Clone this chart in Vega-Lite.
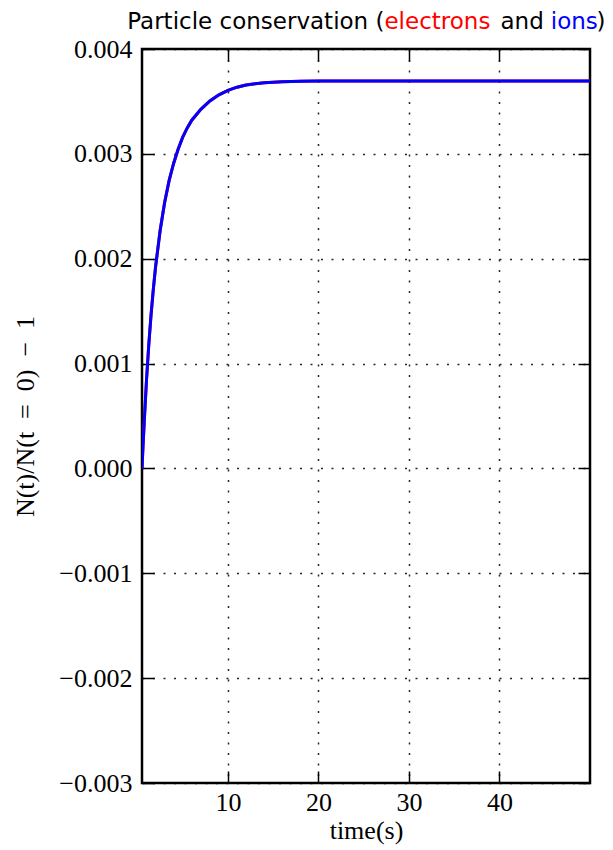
{
  "$schema": "https://vega.github.io/schema/vega-lite/v6.json",
  "width": 448,
  "height": 734,
  "autosize": {"type": "none"},
  "padding": {"left": 142, "top": 49, "right": 23, "bottom": 67},
  "background": "white",
  "data": {
    "values": [
      {"t": 0.5, "electrons": 0.0, "ions": 0.0},
      {"t": 0.6, "electrons": 0.000191, "ions": 0.000191},
      {"t": 0.75, "electrons": 0.00045, "ions": 0.00045},
      {"t": 1.0, "electrons": 0.000846, "ions": 0.000846},
      {"t": 1.25, "electrons": 0.001181, "ions": 0.001181},
      {"t": 1.5, "electrons": 0.001465, "ions": 0.001465},
      {"t": 1.75, "electrons": 0.001707, "ions": 0.001707},
      {"t": 2.0, "electrons": 0.001923, "ions": 0.001923},
      {"t": 2.5, "electrons": 0.002266, "ions": 0.002266},
      {"t": 3.0, "electrons": 0.002537, "ions": 0.002537},
      {"t": 3.5, "electrons": 0.002747, "ions": 0.002747},
      {"t": 4.0, "electrons": 0.002911, "ions": 0.002911},
      {"t": 4.5, "electrons": 0.003047, "ions": 0.003047},
      {"t": 5.0, "electrons": 0.003159, "ions": 0.003159},
      {"t": 5.5, "electrons": 0.003247, "ions": 0.003247},
      {"t": 6.0, "electrons": 0.003321, "ions": 0.003321},
      {"t": 7.0, "electrons": 0.003425, "ions": 0.003425},
      {"t": 8.0, "electrons": 0.003505, "ions": 0.003505},
      {"t": 9.0, "electrons": 0.003563, "ions": 0.003563},
      {"t": 10.0, "electrons": 0.003606, "ions": 0.003606},
      {"t": 11.0, "electrons": 0.003636, "ions": 0.003636},
      {"t": 12.0, "electrons": 0.003656, "ions": 0.003656},
      {"t": 13.0, "electrons": 0.003669, "ions": 0.003669},
      {"t": 14.0, "electrons": 0.003678, "ions": 0.003678},
      {"t": 15.0, "electrons": 0.003684, "ions": 0.003684},
      {"t": 16.0, "electrons": 0.003688, "ions": 0.003688},
      {"t": 18.0, "electrons": 0.003692, "ions": 0.003692},
      {"t": 20.0, "electrons": 0.003694, "ions": 0.003694},
      {"t": 25.0, "electrons": 0.003695, "ions": 0.003695},
      {"t": 30.0, "electrons": 0.003695, "ions": 0.003695},
      {"t": 35.0, "electrons": 0.003695, "ions": 0.003695},
      {"t": 40.0, "electrons": 0.003695, "ions": 0.003695},
      {"t": 45.0, "electrons": 0.003695, "ions": 0.003695},
      {"t": 50.0, "electrons": 0.003695, "ions": 0.003695}
    ]
  },
  "config": {
    "view": {"stroke": "black", "strokeWidth": 2.5},
    "axis": {
      "domain": false,
      "labelFont": "Liberation Serif",
      "labelFontSize": 26,
      "labelColor": "black",
      "titleFont": "Liberation Serif",
      "titleFontSize": 26,
      "titleFontWeight": "normal",
      "titleColor": "black",
      "tickColor": "black",
      "tickWidth": 1.5,
      "tickSize": -12,
      "gridColor": "black",
      "gridDash": [2, 8.5],
      "gridWidth": 1.5,
      "gridOpacity": 0.85
    }
  },
  "layer": [
    {
      "transform": [{"fold": ["electrons", "ions"], "as": ["species", "value"]}],
      "mark": {"type": "line", "strokeWidth": 3, "clip": true},
      "encoding": {
        "x": {
          "field": "t",
          "type": "quantitative",
          "scale": {"domain": [0.5, 50], "nice": false, "zero": false},
          "axis": {
            "orient": "bottom",
            "values": [10, 20, 30, 40],
            "grid": true,
            "labelPadding": 39,
            "labelBaseline": "alphabetic",
            "title": "time(s)",
            "titleX": 224,
            "titleY": 55,
            "titleBaseline": "alphabetic",
            "titleAlign": "center"
          }
        },
        "y": {
          "field": "value",
          "type": "quantitative",
          "scale": {"domain": [-0.003, 0.004], "nice": false, "zero": false},
          "axis": {
            "orient": "left",
            "values": [-0.003, -0.002, -0.001, 0, 0.001, 0.002, 0.003, 0.004],
            "format": ".3f",
            "grid": true,
            "labelPadding": 22,
            "title": "N(t)/N(t\u2002=\u20020)\u2002−\u20021",
            "titleX": -109,
            "titleY": 367,
            "titleAngle": 270,
            "titleBaseline": "alphabetic",
            "titleAlign": "center"
          }
        },
        "color": {
          "field": "species",
          "type": "nominal",
          "scale": {"domain": ["electrons", "ions"], "range": ["#ff0000", "#0000ff"]},
          "legend": null
        }
      }
    },
    {
      "transform": [{"fold": ["ions"], "as": ["species", "value"]}],
      "mark": {"type": "line", "opacity": 0},
      "encoding": {
        "x": {
          "field": "t",
          "type": "quantitative",
          "scale": {"domain": [0.5, 50], "nice": false, "zero": false},
          "axis": {"orient": "top", "values": [10, 20, 30, 40], "labels": false, "grid": false, "title": null}
        },
        "y": {
          "field": "value",
          "type": "quantitative",
          "scale": {"domain": [-0.003, 0.004], "nice": false, "zero": false},
          "axis": {"orient": "right", "values": [-0.003, -0.002, -0.001, 0, 0.001, 0.002, 0.003, 0.004], "labels": false, "grid": false, "title": null}
        }
      }
    },
    {
      "data": {"values": [{}]},
      "mark": {"type": "text", "font": "DejaVu Sans", "fontSize": 23, "align": "right", "baseline": "alphabetic", "color": "black"},
      "encoding": {
        "x": {"datum": 27.29, "type": "quantitative", "scale": {"domain": [0.5, 50], "nice": false, "zero": false}, "axis": null},
        "y": {"datum": 0.004195, "type": "quantitative", "scale": {"domain": [-0.003, 0.004], "nice": false, "zero": false}, "axis": null},
        "text": {"value": "Particle conservation ("}
      }
    },
    {
      "data": {"values": [{}]},
      "mark": {"type": "text", "font": "DejaVu Sans", "fontSize": 23, "align": "left", "baseline": "alphabetic", "color": "#ff0000"},
      "encoding": {
        "x": {"datum": 27.29, "type": "quantitative", "scale": {"domain": [0.5, 50], "nice": false, "zero": false}, "axis": null},
        "y": {"datum": 0.004195, "type": "quantitative", "scale": {"domain": [-0.003, 0.004], "nice": false, "zero": false}, "axis": null},
        "text": {"value": "electrons"}
      }
    },
    {
      "data": {"values": [{}]},
      "mark": {"type": "text", "font": "DejaVu Sans", "fontSize": 23, "align": "left", "baseline": "alphabetic", "color": "black"},
      "encoding": {
        "x": {"datum": 40.11, "type": "quantitative", "scale": {"domain": [0.5, 50], "nice": false, "zero": false}, "axis": null},
        "y": {"datum": 0.004195, "type": "quantitative", "scale": {"domain": [-0.003, 0.004], "nice": false, "zero": false}, "axis": null},
        "text": {"value": "and"}
      }
    },
    {
      "data": {"values": [{}]},
      "mark": {"type": "text", "font": "DejaVu Sans", "fontSize": 23, "align": "left", "baseline": "alphabetic", "color": "#0000ff"},
      "encoding": {
        "x": {"datum": 45.67, "type": "quantitative", "scale": {"domain": [0.5, 50], "nice": false, "zero": false}, "axis": null},
        "y": {"datum": 0.004195, "type": "quantitative", "scale": {"domain": [-0.003, 0.004], "nice": false, "zero": false}, "axis": null},
        "text": {"value": "ions"}
      }
    },
    {
      "data": {"values": [{}]},
      "mark": {"type": "text", "font": "DejaVu Sans", "fontSize": 23, "align": "left", "baseline": "alphabetic", "color": "black"},
      "encoding": {
        "x": {"datum": 50.72, "type": "quantitative", "scale": {"domain": [0.5, 50], "nice": false, "zero": false}, "axis": null},
        "y": {"datum": 0.004195, "type": "quantitative", "scale": {"domain": [-0.003, 0.004], "nice": false, "zero": false}, "axis": null},
        "text": {"value": ")"}
      }
    }
  ],
  "resolve": {"axis": {"x": "independent", "y": "independent"}}
}
